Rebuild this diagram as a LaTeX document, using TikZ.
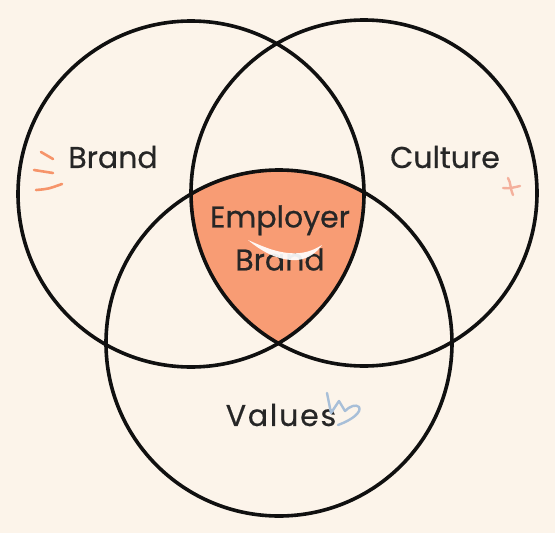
\documentclass[tikz,border=0pt]{standalone}
\usepackage{fontspec}
\setmainfont[FakeBold=0.6]{Poppins}
\newfontfamily\spacedfont[LetterSpace=6,FakeBold=0.6]{Poppins}
\definecolor{bgc}{HTML}{FCF4EA}
\definecolor{fillc}{HTML}{F89C74}
\definecolor{txtc}{HTML}{262626}
\definecolor{linec}{HTML}{101010}
\definecolor{orng}{HTML}{F6946A}
\definecolor{pinkc}{HTML}{F4B09C}
\definecolor{bluec}{HTML}{A8BFD8}
\begin{document}
\begin{tikzpicture}[x=1pt,y=-1pt,
  ring/.style={draw=linec,line width=3.6pt},
  lbl/.style={text=txtc,font=\fontsize{30}{43}\selectfont,align=center,inner sep=0pt},
  doodle/.style={line width=2.6pt,line cap=round,line join=round}]
\fill[bgc] (0,0) rectangle (555,533);
\useasboundingbox (0,0) rectangle (555,533);
\coordinate (cl) at (191,194);
\coordinate (cr) at (364,193);
\coordinate (cb) at (279,343);
\begin{scope}
  \clip (cl) circle[radius=173];
  \clip (cr) circle[radius=173];
  \fill[fillc] (cb) circle[radius=173];
\end{scope}
\draw[ring] (cl) circle[radius=173];
\draw[ring] (cr) circle[radius=173];
\draw[ring] (cb) circle[radius=173];
\node[lbl] (brand) at (113,157) {Brand};
\node[lbl] (culture) at (445,157) {Culture};
\node[lbl] (emp) at (280,238) {Employer\\Brand};
\node[lbl,font=\spacedfont\fontsize{30}{43}\selectfont] (values) at (281,415) {Values};
% brand doodle
\draw[doodle,orng] (41,152) -- (53,159);
\draw[doodle,orng] (34,170) -- (53,173);
\draw[doodle,orng] (36,190) .. controls (48,189) .. (62,184);
% culture doodle
\draw[doodle,pinkc,line width=2.4pt] (503,188) .. controls (510,189) and (515,187) .. (520,186);
\draw[doodle,pinkc,line width=2.4pt] (508,178) .. controls (511,183) and (510,188) .. (513,195);
% values doodle
\draw[doodle,bluec,line width=2.4pt] (327,393) -- (331,413) -- (339,401) -- (345,411)
   .. controls (350,406) and (356,404) .. (359,407)
   .. controls (362,412) and (352,420) .. (338,425);
% swoosh
\fill[white,opacity=0.92] (248,240) .. controls (262,246) and (280,255) .. (300,253)
   .. controls (310,252) and (317,248) .. (322,245)
   .. controls (317,252) and (309,259) .. (297,260)
   .. controls (278,261) and (261,251) .. (248,240) -- cycle;
\end{tikzpicture}
\end{document}
